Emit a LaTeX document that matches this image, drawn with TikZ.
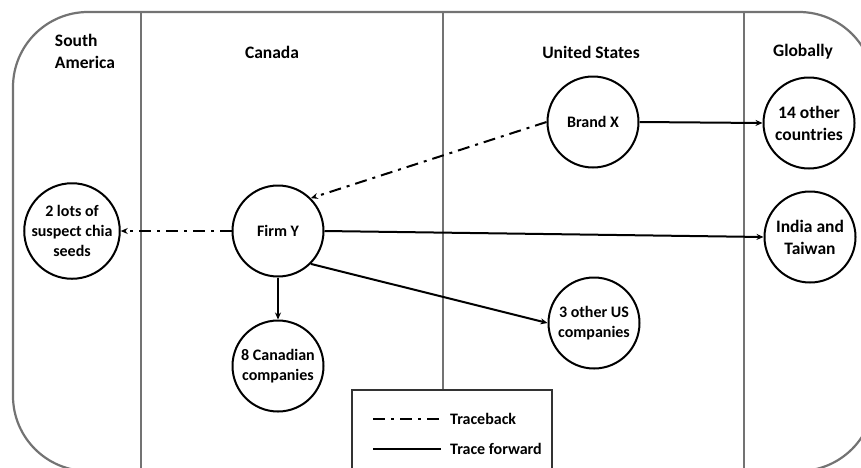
\documentclass[tikz,border=0pt]{standalone}
\usepackage{fontspec}
\setmainfont{Carlito}
\usetikzlibrary{arrows.meta}
\begin{document}
\begin{tikzpicture}[x=1pt,y=-1pt,
  frame/.style={draw=black!55,line width=2.2pt},
  divider/.style={draw=black!55,line width=1.8pt},
  place/.style={circle,draw=black,line width=2pt,minimum size=91pt,inner sep=0pt,
    align=center,font=\fontsize{16}{20}\selectfont\bfseries},
  bigplace/.style={place,font=\fontsize{17.5}{22}\selectfont\bfseries},
  header/.style={font=\fontsize{17.5}{22}\selectfont\bfseries},
  legendtext/.style={font=\fontsize{16}{20}\selectfont\bfseries,anchor=west,inner sep=0pt},
  fwd/.style={line width=2pt,-{Stealth[length=7pt,width=6pt]}},
  back/.style={line width=2pt,dash pattern=on 12pt off 6pt on 3pt off 6pt,-{Stealth[length=7pt,width=6pt]}},
  backline/.style={line width=2pt,dash pattern=on 12pt off 6pt on 3pt off 6pt}
]
\useasboundingbox (0,0) rectangle (861,467);
\clip (0,0) rectangle (861,467);
% frame
\draw[frame,rounded corners=75pt] (13,12) rectangle (874,471);
% dividers
\coordinate (d1t) at (141,12); \coordinate (d1b) at (141,471);
\coordinate (d2t) at (443,12); \coordinate (d2b) at (443,390);
\coordinate (d3t) at (744,12); \coordinate (d3b) at (744,471);
\draw[divider] (d1t) -- (d1b);
\draw[divider] (d2t) -- (d2b);
\draw[divider] (d3t) -- (d3b);
% headers
\node[header,align=left] (hsa) at (85,51) {South\\America};
\node[header] (hca) at (272,52) {Canada};
\node[header] (hus) at (591,52) {United States};
\node[header] (hgl) at (803,52) {Globally};
% nodes
\node[place] (bx) at (593,122) {Brand X};
\node[bigplace] (c14) at (809,123) {14 other\\countries};
\node[place] (fy) at (278,231) {Firm Y};
\node[place] (lots) at (72,231) {2 lots of\\suspect chia\\seeds};
\node[bigplace] (ind) at (810,237) {India and\\Taiwan};
\node[place] (us3) at (594,323) {3 other US\\companies};
\node[place] (can8) at (278,366) {8 Canadian\\companies};
% connectors
\draw[back] (bx.west) -- (fy.north east);
\draw[back] (fy.west) -- (lots.east);
\draw[fwd] (bx.east) -- (c14.west);
\draw[fwd] (fy.east) -- (ind.west);
\draw[fwd] (fy.south east) -- (us3.west);
\draw[fwd] (fy.south) -- (can8.north);
% legend
\draw[line width=2pt,draw=black!80] (352,390) rectangle (552,490);
\coordinate (l1a) at (373,419); \coordinate (l1b) at (441,419);
\coordinate (l2a) at (373,449); \coordinate (l2b) at (441,449);
\draw[backline] (l1a) -- (l1b);
\draw[line width=2pt] (l2a) -- (l2b);
\node[legendtext] (tb) at (450,419) {Traceback};
\node[legendtext] (tf) at (450,449) {Trace forward};
\end{tikzpicture}
\end{document}
